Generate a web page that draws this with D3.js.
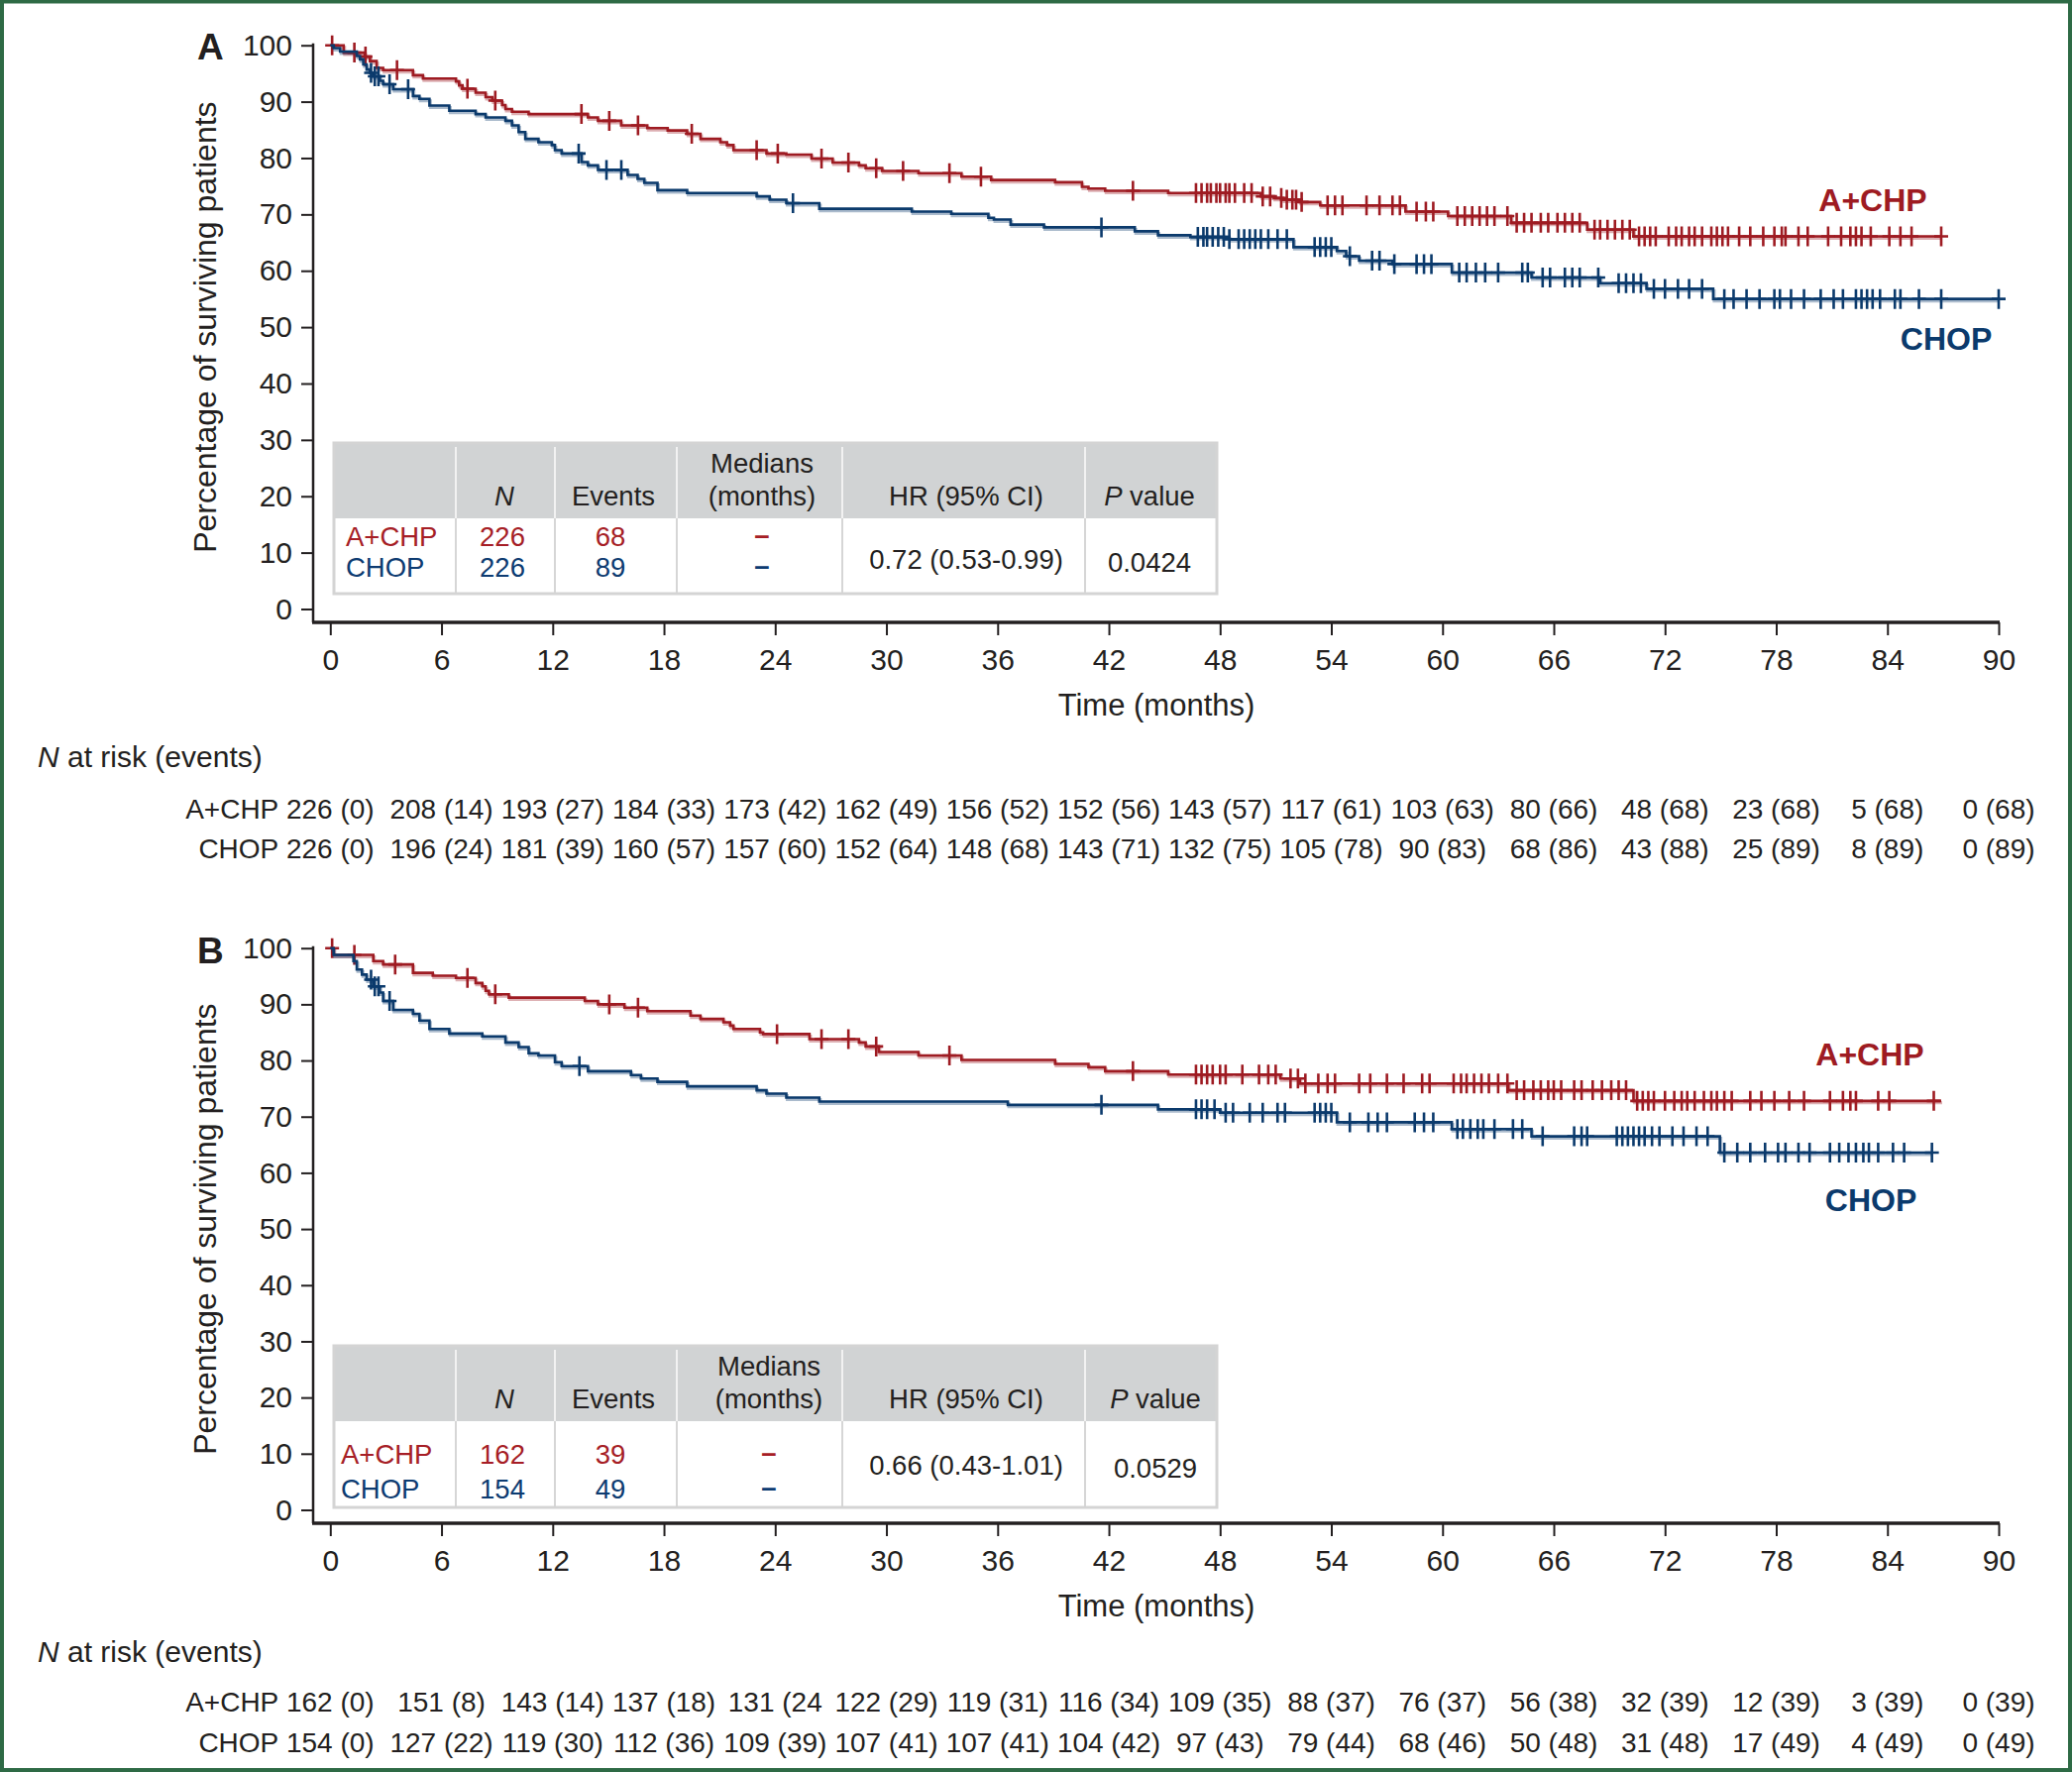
<!DOCTYPE html>
<html><head><meta charset="utf-8">
<script src="https://cdn.jsdelivr.net/npm/d3@7"></script>
<style>
body{margin:0;background:#fff}
svg{display:block}
text{font-family:"Liberation Sans",Arial,Helvetica,sans-serif}
</style>
</head><body>
<svg id="c" width="2091" height="1788"></svg>
<script>
// ---------------- DATA ----------------
const monthTicks = [0, 6, 12, 18, 24, 30, 36, 42, 48, 54, 60, 66, 72, 78, 84, 90];
const pctTicks = [0, 10, 20, 30, 40, 50, 60, 70, 80, 90, 100];
const groups = ["A+CHP", "CHOP"];

// Panel A — A+CHP step curve (time in months, % surviving)
const aAchpT = [0, 0.72, 1.86, 2.14, 2.5, 2.85, 4.46, 5.0, 6.78, 6.95, 7.13, 7.84, 8.38, 8.74, 9.27, 9.45, 9.8, 10.7, 13.9, 14.44, 15.69, 17.1, 18.2, 19.25, 19.97, 21.04, 21.4, 21.75, 23.53, 24.6, 25.96, 27.1, 28.52, 28.88, 29.77, 31.73, 34.05, 35.65, 39.1, 40.55, 40.9, 41.8, 45.2, 50.2, 50.9, 51.4, 52.3, 53.4, 58.0, 60.3, 63.7, 67.8, 70.3];
const aAchpS = [100, 98.7, 98.0, 97.2, 96.0, 95.6, 94.7, 94.1, 93.6, 92.9, 92.3, 91.6, 90.8, 90.2, 89.4, 88.7, 88.2, 87.8, 87.2, 86.6, 85.8, 85.3, 84.9, 84.3, 83.4, 82.8, 82.3, 81.4, 80.8, 80.6, 79.9, 79.2, 78.7, 78.2, 77.7, 77.3, 76.7, 76.1, 75.7, 74.9, 74.6, 74.2, 73.8, 73.2, 72.9, 72.6, 72.2, 71.6, 70.5, 69.7, 68.5, 67.3, 66.1];
const aAchpEnd = 86.9;
const aAchpCens = [0.1, 1.3, 1.9, 3.6, 7.4, 8.9, 13.55, 15.05, 16.6, 19.5, 23.0, 24.14, 26.5, 27.95, 29.45, 30.9, 33.4, 35.1, 43.3, 46.7, 47.0, 47.3, 47.5, 47.8, 48.0, 48.3, 48.5, 48.8, 49.3, 49.7, 50.3, 50.7, 51.3, 51.6, 51.9, 52.1, 52.4, 53.8, 54.2, 54.6, 55.9, 56.6, 57.3, 57.7, 58.6, 59.1, 59.5, 60.8, 61.2, 61.6, 62.0, 62.4, 62.8, 63.5, 64.0, 64.4, 64.8, 65.3, 65.7, 66.2, 66.6, 67.0, 67.4, 68.2, 68.5, 68.9, 69.3, 69.7, 70.1, 70.6, 70.9, 71.2, 71.5, 72.2, 72.6, 72.9, 73.3, 73.6, 74.0, 74.5, 74.8, 75.1, 75.4, 76.0, 76.6, 77.3, 77.9, 78.3, 78.5, 79.2, 79.7, 80.8, 81.5, 82.0, 82.3, 82.6, 83.1, 84.1, 84.7, 85.3, 86.9];

// Panel A — CHOP
const aChopT = [0, 0.18, 0.53, 1.43, 1.6, 1.78, 1.96, 2.14, 2.32, 2.67, 2.85, 3.39, 4.46, 4.81, 5.35, 6.42, 7.84, 8.38, 9.45, 9.8, 10.16, 10.52, 11.23, 11.95, 12.12, 12.48, 13.55, 13.9, 14.44, 16.04, 16.58, 16.94, 17.65, 19.25, 23.0, 23.7, 24.6, 26.38, 31.37, 33.5, 35.5, 35.8, 36.7, 38.5, 43.4, 44.65, 46.4, 48.5, 51.96, 54.3, 54.8, 55.5, 57.3, 60.5, 64.8, 68.5, 71.0, 74.6];
const aChopS = [100, 99.5, 98.9, 98.1, 97.5, 96.6, 95.7, 95.1, 94.5, 93.7, 93.1, 92.2, 91.0, 90.5, 89.3, 88.4, 87.8, 87.2, 86.6, 85.8, 84.6, 83.4, 82.8, 82.3, 81.4, 80.8, 79.3, 78.7, 77.9, 77.0, 76.3, 75.6, 74.3, 73.8, 73.2, 72.6, 72.0, 71.0, 70.5, 70.1, 69.4, 69.1, 68.2, 67.7, 67.0, 66.3, 66.0, 65.6, 64.2, 63.5, 62.6, 61.8, 61.2, 59.7, 58.8, 57.8, 56.8, 55.0];
const aChopEnd = 90.0;
const aChopCens = [2.2, 2.4, 2.6, 3.2, 4.2, 13.4, 14.9, 15.7, 24.96, 41.6, 46.8, 47.1, 47.3, 47.6, 47.9, 48.2, 48.5, 49.0, 49.3, 49.6, 49.9, 50.2, 50.6, 51.1, 51.6, 53.1, 53.4, 53.7, 54.0, 55.0, 56.2, 56.6, 57.4, 58.6, 59.0, 59.4, 60.9, 61.3, 61.8, 62.3, 63.0, 64.3, 64.6, 65.4, 65.8, 66.6, 67.0, 67.4, 68.4, 69.5, 69.9, 70.3, 70.7, 71.4, 72.0, 72.7, 73.3, 74.0, 75.2, 75.7, 76.4, 77.1, 77.9, 78.2, 78.8, 79.5, 80.4, 81.1, 81.6, 82.3, 82.6, 82.9, 83.2, 83.6, 84.4, 84.7, 85.7, 86.9, 90.0];

// Panel B — A+CHP
const bAchpT = [0, 0.18, 2.32, 2.85, 4.46, 5.53, 6.78, 7.84, 8.2, 8.38, 8.56, 9.63, 13.73, 14.44, 15.87, 17.1, 19.43, 19.97, 21.21, 21.57, 21.75, 23.18, 23.35, 25.85, 28.52, 28.88, 29.59, 31.73, 34.05, 39.1, 40.9, 41.8, 45.2, 51.25, 52.3, 63.55, 70.3];
const bAchpS = [100, 98.8, 97.7, 97.1, 95.6, 95.1, 94.7, 93.8, 93.2, 92.4, 91.8, 91.2, 90.6, 90.0, 89.4, 88.8, 88.0, 87.4, 86.8, 86.2, 85.6, 85.0, 84.7, 83.8, 83.2, 82.5, 81.5, 80.9, 80.1, 79.4, 78.8, 78.1, 77.5, 76.8, 75.9, 74.7, 72.8];
const bAchpEnd = 86.9;
const bAchpCens = [0.1, 1.3, 3.5, 7.4, 8.9, 15.05, 16.6, 24.1, 26.5, 27.95, 29.45, 33.4, 43.3, 46.7, 47.0, 47.3, 47.6, 48.0, 48.3, 49.2, 50.1, 50.6, 51.0, 51.8, 52.2, 52.6, 53.3, 53.8, 54.2, 55.5, 56.1, 57.0, 57.9, 58.9, 59.3, 60.6, 61.0, 61.3, 61.7, 62.1, 62.5, 63.0, 63.5, 64.0, 64.4, 64.9, 65.3, 65.7, 66.0, 66.4, 67.1, 67.5, 68.1, 68.6, 69.1, 69.5, 69.9, 70.5, 70.8, 71.1, 71.4, 72.0, 72.5, 72.9, 73.2, 73.6, 74.1, 74.5, 74.8, 75.2, 75.6, 76.6, 77.2, 77.9, 78.7, 79.5, 80.9, 81.6, 82.0, 82.3, 83.5, 84.1, 86.5];

// Panel B — CHOP
const bChopT = [0, 0.18, 1.25, 1.43, 1.71, 1.96, 2.32, 2.67, 2.85, 3.39, 4.46, 4.81, 5.35, 6.42, 8.2, 9.45, 10.16, 10.7, 11.23, 12.12, 12.48, 13.9, 16.22, 16.76, 17.65, 19.25, 23.0, 23.53, 24.6, 26.38, 36.55, 44.65, 48.0, 54.3, 60.5, 64.8, 74.96];
const bChopS = [100, 98.8, 97.7, 96.2, 95.3, 94.4, 93.2, 92.1, 90.6, 89.0, 88.3, 87.1, 85.6, 84.8, 84.3, 83.2, 82.4, 81.3, 80.9, 79.7, 79.0, 78.1, 77.4, 76.8, 76.2, 75.4, 74.7, 74.1, 73.4, 72.7, 72.1, 71.3, 70.7, 69.0, 67.8, 66.5, 63.6];
const bChopEnd = 86.4;
const bChopCens = [2.2, 2.4, 2.6, 3.2, 13.44, 41.6, 46.7, 47.0, 47.3, 47.7, 48.3, 48.7, 49.6, 50.3, 51.1, 51.5, 53.1, 53.4, 53.7, 54.0, 55.0, 56.0, 56.5, 57.0, 58.5, 59.0, 59.5, 60.8, 61.1, 61.5, 61.9, 62.2, 62.8, 63.8, 64.3, 65.4, 67.1, 67.5, 67.8, 69.4, 69.7, 70.0, 70.3, 70.6, 70.9, 71.3, 71.7, 72.4, 73.0, 73.7, 74.3, 75.2, 75.9, 76.6, 77.4, 78.1, 78.5, 79.2, 79.8, 80.9, 81.4, 81.9, 82.3, 82.7, 83.0, 83.5, 84.3, 84.9, 86.4];

// Summary tables
const tableCols = ["", "N", "Events", "Medians\n(months)", "HR (95% CI)", "P value"];
const aN = [226, 226], aEvents = [68, 89], aMedians = ["–", "–"], aHR = "0.72 (0.53-0.99)", aP = "0.0424";
const bN = [162, 154], bEvents = [39, 49], bMedians = ["–", "–"], bHR = "0.66 (0.43-1.01)", bP = "0.0529";

// Number at risk (events)
const aRiskAchp = ["226 (0)", "208 (14)", "193 (27)", "184 (33)", "173 (42)", "162 (49)", "156 (52)", "152 (56)", "143 (57)", "117 (61)", "103 (63)", "80 (66)", "48 (68)", "23 (68)", "5 (68)", "0 (68)"];
const aRiskChop = ["226 (0)", "196 (24)", "181 (39)", "160 (57)", "157 (60)", "152 (64)", "148 (68)", "143 (71)", "132 (75)", "105 (78)", "90 (83)", "68 (86)", "43 (88)", "25 (89)", "8 (89)", "0 (89)"];
const bRiskAchp = ["162 (0)", "151 (8)", "143 (14)", "137 (18)", "131 (24", "122 (29)", "119 (31)", "116 (34)", "109 (35)", "88 (37)", "76 (37)", "56 (38)", "32 (39)", "12 (39)", "3 (39)", "0 (39)"];
const bRiskChop = ["154 (0)", "127 (22)", "119 (30)", "112 (36)", "109 (39)", "107 (41)", "107 (41)", "104 (42)", "97 (43)", "79 (44)", "68 (46)", "50 (48)", "31 (48)", "17 (49)", "4 (49)", "0 (49)"];

// ---------------- STYLE ----------------
const RED = "#9e1b22", BLUE = "#0b3a6c", INK = "#231f20";
const TRED = "#a61e26", TBLUE = "#0d3b71";

// ---------------- DRAW ----------------
const svg = d3.select("#c");
svg.append("rect").attr("x", 0).attr("y", 0).attr("width", 2091).attr("height", 1788).attr("fill", "#fff");

const x = d3.scaleLinear().domain([0, 90]).range([333.3, 2017]);

function drawPanel(p) {
  const y = d3.scaleLinear().domain([0, 100]).range([p.y0, p.y100]);
  const g = svg.append("g");

  // panel letter
  g.append("text").attr("x", 199).attr("y", p.letterY).attr("font-size", 37).attr("font-weight", "bold").attr("fill", INK).text(p.letter);

  // y axis
  const ya = g.append("g").attr("transform", "translate(316,0)")
    .call(d3.axisLeft(y).tickValues(pctTicks).tickSize(12).tickPadding(9).tickSizeOuter(0));
  ya.attr("font-family", null).attr("font-size", null);
  ya.select(".domain").remove();
  ya.selectAll("line").attr("stroke", INK).attr("stroke-width", 2);
  ya.selectAll("text").attr("font-size", 30).attr("fill", INK);
  g.append("line").attr("x1", 316).attr("x2", 316).attr("y1", y(100) - 2).attr("y2", p.axisY)
    .attr("stroke", INK).attr("stroke-width", 2.5);

  // x axis
  const xa = g.append("g").attr("transform", `translate(0,${p.axisY})`)
    .call(d3.axisBottom(x).tickValues(monthTicks).tickSize(13).tickPadding(14).tickSizeOuter(0));
  xa.attr("font-family", null).attr("font-size", null);
  xa.select(".domain").remove();
  xa.selectAll("line").attr("stroke", INK).attr("stroke-width", 2);
  xa.selectAll("text").attr("font-size", 30).attr("fill", INK);
  g.append("line").attr("x1", 315).attr("x2", x(90) + 1).attr("y1", p.axisY).attr("y2", p.axisY)
    .attr("stroke", INK).attr("stroke-width", 3.5);

  // axis titles
  g.append("text").attr("x", 1167).attr("y", p.axisY + 94).attr("text-anchor", "middle")
    .attr("font-size", 31).attr("fill", INK).text("Time (months)");
  g.append("text").attr("transform", `translate(218,${(p.y0 + p.y100) / 2}) rotate(-90)`)
    .attr("text-anchor", "middle").attr("font-size", 32).attr("fill", INK).text("Percentage of surviving patients");

  // summary table
  const tb = p.table;
  const cols = [337, 460, 560, 683, 850, 1095, 1228];
  g.append("rect").attr("x", cols[0]).attr("y", tb.top).attr("width", cols[6] - cols[0]).attr("height", tb.hdr - tb.top).attr("fill", "#d1d3d4");
  g.append("rect").attr("x", cols[0]).attr("y", tb.hdr).attr("width", cols[6] - cols[0]).attr("height", tb.bottom - tb.hdr).attr("fill", "#fff");
  cols.slice(1, 6).forEach(c => {
    g.append("line").attr("x1", c).attr("x2", c).attr("y1", tb.top + 4).attr("y2", tb.hdr).attr("stroke", "#f2f2f2").attr("stroke-width", 2);
    g.append("line").attr("x1", c).attr("x2", c).attr("y1", tb.hdr).attr("y2", tb.bottom).attr("stroke", "#d6d6d6").attr("stroke-width", 2);
  });
  g.append("rect").attr("x", cols[0]).attr("y", tb.top).attr("width", cols[6] - cols[0]).attr("height", tb.bottom - tb.top)
    .attr("fill", "none").attr("stroke", "#d4d4d4").attr("stroke-width", 3);

  const fs = 27.5;
  const hy = tb.hdr - 13;
  g.append("text").attr("x", 509).attr("y", hy).attr("text-anchor", "middle").attr("font-size", fs).attr("font-style", "italic").attr("fill", INK).text(tableCols[1]);
  g.append("text").attr("x", 619).attr("y", hy).attr("text-anchor", "middle").attr("font-size", fs).attr("fill", INK).text(tableCols[2]);
  const med = tableCols[3].split("\n");
  g.append("text").attr("x", tb.medX).attr("y", hy - 33).attr("text-anchor", "middle").attr("font-size", fs).attr("fill", INK).text(med[0]);
  g.append("text").attr("x", tb.medX).attr("y", hy).attr("text-anchor", "middle").attr("font-size", fs).attr("fill", INK).text(med[1]);
  g.append("text").attr("x", 975).attr("y", hy).attr("text-anchor", "middle").attr("font-size", fs).attr("fill", INK).text(tableCols[4]);
  const pv = g.append("text").attr("x", tb.pX).attr("y", hy).attr("text-anchor", "middle").attr("font-size", fs).attr("fill", INK);
  pv.append("tspan").attr("font-style", "italic").text(tableCols[5].split(" ")[0]);
  pv.append("tspan").text(" " + tableCols[5].split(" ")[1]);

  [TRED, TBLUE].forEach((col, i) => {
    const ry = tb.rows[i];
    g.append("text").attr("x", tb.labX).attr("y", ry).attr("font-size", fs).attr("fill", col).text(groups[i]);
    g.append("text").attr("x", 507).attr("y", ry).attr("text-anchor", "middle").attr("font-size", fs).attr("fill", col).text(p.n[i]);
    g.append("text").attr("x", 616).attr("y", ry).attr("text-anchor", "middle").attr("font-size", fs).attr("fill", col).text(p.events[i]);
    g.append("text").attr("x", tb.medX).attr("y", ry - 2).attr("text-anchor", "middle").attr("font-size", fs).attr("font-weight", "bold").attr("fill", col).text(p.medians[i]);
  });
  g.append("text").attr("x", 975).attr("y", tb.statY).attr("text-anchor", "middle").attr("font-size", fs).attr("fill", INK).text(p.hr);
  g.append("text").attr("x", tb.pX).attr("y", tb.statY + 3).attr("text-anchor", "middle").attr("font-size", fs).attr("fill", INK).text(p.p);

  // curves
  const line = d3.line().x(d => x(d[0])).y(d => y(d[1])).curve(d3.curveStepAfter);
  const cross = "M0,-10V10M-7,0H7";
  p.series.forEach(s => {
    const pts = s.T.map((t, i) => [t, s.S[i]]);
    pts.push([s.end, s.S[s.S.length - 1]]);
    g.append("path").attr("d", line(pts)).attr("fill", "none").attr("stroke", s.color).attr("stroke-opacity", 0.35)
      .attr("stroke-width", 3).attr("transform", "translate(1,2)");
    g.append("path").attr("d", line(pts)).attr("fill", "none").attr("stroke", s.color).attr("stroke-width", 2.6);
    const at = t => s.S[Math.max(0, d3.bisectRight(s.T, t) - 1)];
    g.append("g").selectAll("path").data(s.cens).join("path")
      .attr("transform", t => `translate(${x(t)},${y(at(t))})`)
      .attr("d", cross).attr("fill", "none").attr("stroke", s.color).attr("stroke-width", 2.6);
  });

  // series labels
  p.labels.forEach((l, i) => {
    g.append("text").attr("x", l[0]).attr("y", l[1]).attr("text-anchor", "middle").attr("font-size", 32)
      .attr("font-weight", "bold").attr("fill", i === 0 ? RED : BLUE).text(groups[i]);
  });

  // number at risk
  const nr = g.append("text").attr("x", 38).attr("y", p.risk.title).attr("font-size", 30).attr("fill", INK);
  nr.append("tspan").attr("font-style", "italic").text("N");
  nr.append("tspan").text(" at risk (events)");
  [p.riskAchp, p.riskChop].forEach((row, i) => {
    const ry = p.risk.rows[i];
    g.append("text").attr("x", x(0) - 52).attr("y", ry).attr("text-anchor", "end").attr("font-size", 28).attr("fill", INK).text(groups[i]);
    g.append("g").selectAll("text").data(row).join("text")
      .attr("x", (d, j) => x(monthTicks[j])).attr("y", ry).attr("text-anchor", "middle")
      .attr("font-size", 28).attr("fill", INK).text(d => d);
  });
}

drawPanel({
  letter: "A", letterY: 60, y0: 614.5, y100: 45.7, axisY: 628,
  table: { top: 447, hdr: 523, bottom: 599, rows: [551, 582], statY: 574, labX: 349, medX: 769, pX: 1160 },
  n: aN, events: aEvents, medians: aMedians, hr: aHR, p: aP,
  series: [
    { T: aAchpT, S: aAchpS, end: aAchpEnd, cens: aAchpCens, color: RED },
    { T: aChopT, S: aChopS, end: aChopEnd, cens: aChopCens, color: BLUE }
  ],
  labels: [[1890, 213], [1964, 353]],
  risk: { title: 774, rows: [826, 866] },
  riskAchp: aRiskAchp, riskChop: aRiskChop
});

drawPanel({
  letter: "B", letterY: 972, y0: 1523.5, y100: 956.7, axisY: 1537,
  table: { top: 1358, hdr: 1434, bottom: 1521, rows: [1477, 1512], statY: 1488, labX: 344, medX: 776, pX: 1166 },
  n: bN, events: bEvents, medians: bMedians, hr: bHR, p: bP,
  series: [
    { T: bAchpT, S: bAchpS, end: bAchpEnd, cens: bAchpCens, color: RED },
    { T: bChopT, S: bChopS, end: bChopEnd, cens: bChopCens, color: BLUE }
  ],
  labels: [[1887, 1075], [1888, 1222]],
  risk: { title: 1677, rows: [1727, 1768] },
  riskAchp: bRiskAchp, riskChop: bRiskChop
});

// outer frame
svg.append("rect").attr("x", 2).attr("y", 1.5).attr("width", 2087).attr("height", 1784.5)
  .attr("fill", "none").attr("stroke", "#2e6a45").attr("stroke-width", 4);
</script>
</body></html>
